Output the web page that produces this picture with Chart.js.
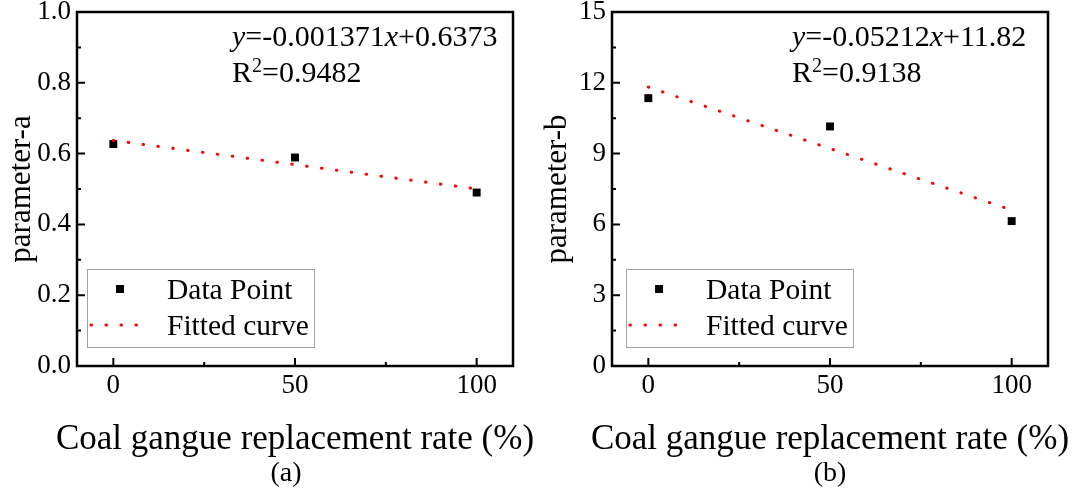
<!DOCTYPE html>
<html>
<head>
<meta charset="utf-8">
<script src="https://cdn.jsdelivr.net/npm/chart.js@4.4.1/dist/chart.umd.min.js"></script>
<style>
  html, body { margin: 0; padding: 0; background: #fff; }
  #wrap { display: flex; width: 1073px; height: 497px; }
  .panel { position: relative; height: 497px; }
  canvas { display: block; }
</style>
</head>
<body>
<div id="wrap">
  <div class="panel" style="width:536px"><canvas id="chartA" width="536" height="497"></canvas></div>
  <div class="panel" style="width:537px"><canvas id="chartB" width="537" height="497"></canvas></div>
</div>
<script>
// data
const replacementRate = [0, 50, 100];
const paramA = [0.627, 0.589, 0.490];
const paramB = [11.35, 10.15, 6.14];
const fitX = [0, 100];
const fitA = [0.6373, 0.5002];
const fitB = [11.82, 6.608];

const xTicks = [0, 50, 100];
const xMinorTicks = [25, 75];
const yTicksA = [0, 0.2, 0.4, 0.6, 0.8, 1.0];
const yMinorA = [0.1, 0.3, 0.5, 0.7, 0.9];
const yTicksB = [0, 3, 6, 9, 12, 15];
const yMinorB = [1.5, 4.5, 7.5, 10.5, 13.5];

const xTitle = 'Coal gangue replacement rate (%)';
const serif = "'Liberation Serif', 'Times New Roman', serif";

function panelPlugin(cfg) {
  return {
    id: 'panelDecor',
    afterDraw(chart) {
      const ctx = chart.ctx;
      const a = chart.chartArea;
      const xs = chart.scales.x, ys = chart.scales.y;
      ctx.save();

      // ticks (pointing inward)
      ctx.strokeStyle = '#000';
      ctx.lineWidth = 2;
      ctx.beginPath();
      xTicks.forEach(v => { const p = xs.getPixelForValue(v); ctx.moveTo(p, a.bottom); ctx.lineTo(p, a.bottom - 8); });
      xMinorTicks.forEach(v => { const p = xs.getPixelForValue(v); ctx.moveTo(p, a.bottom); ctx.lineTo(p, a.bottom - 4); });
      cfg.yTicks.forEach(v => { const p = ys.getPixelForValue(v); ctx.moveTo(a.left, p); ctx.lineTo(a.left + 8, p); });
      cfg.yMinor.forEach(v => { const p = ys.getPixelForValue(v); ctx.moveTo(a.left, p); ctx.lineTo(a.left + 4, p); });
      ctx.stroke();

      // frame
      ctx.lineWidth = 2.5;
      ctx.strokeRect(a.left, a.top, a.right - a.left, a.bottom - a.top);

      // equation
      ctx.fillStyle = '#000';
      ctx.textBaseline = 'alphabetic';
      ctx.textAlign = 'left';
      let x = a.left + cfg.eqDx;
      const parts = [['y', true], [cfg.eq1, false], ['x', true], [cfg.eq2, false]];
      parts.forEach(([t, it]) => {
        ctx.font = (it ? 'italic ' : '') + '30px ' + serif;
        ctx.fillText(t, x, 46);
        x += ctx.measureText(t).width;
      });
      x = a.left + cfg.eqDx;
      ctx.font = '30px ' + serif;
      ctx.fillText('R', x, 82);
      x += ctx.measureText('R').width;
      ctx.font = '20px ' + serif;
      ctx.fillText('2', x, 72);
      x += ctx.measureText('2').width;
      ctx.font = '30px ' + serif;
      ctx.fillText(cfg.r2, x, 82);

      // legend
      const lx = a.left + cfg.legDx, ly = a.top + 257, lw = 227, lh = 78;
      ctx.fillStyle = '#fff';
      ctx.fillRect(lx, ly, lw, lh);
      ctx.strokeStyle = '#a0a0a0';
      ctx.lineWidth = 1;
      ctx.strokeRect(lx + 0.5, ly + 0.5, lw, lh);
      ctx.fillStyle = '#000';
      ctx.fillRect(lx + 29, ly + 16, 8, 8);
      ctx.strokeStyle = '#ff0000';
      ctx.lineWidth = 3;
      ctx.lineCap = 'round';
      ctx.setLineDash([0.5, 14.5]);
      ctx.beginPath();
      ctx.moveTo(lx + 4, ly + 56);
      ctx.lineTo(lx + 56, ly + 56);
      ctx.stroke();
      ctx.setLineDash([]);
      ctx.fillStyle = '#000';
      ctx.font = '29.5px ' + serif;
      ctx.fillText('Data Point', lx + 80, ly + 30);
      ctx.fillText('Fitted curve', lx + 80, ly + 66);

      // x axis title (wider than the plot, so drawn here without squeezing) and caption
      const cx = (a.left + a.right) / 2;
      ctx.textAlign = 'center';
      ctx.font = '35px ' + serif;
      ctx.fillText(xTitle, cx, 449);
      ctx.font = '28px ' + serif;
      ctx.fillText(cfg.caption, cx + cfg.capDx, 481);
      ctx.restore();
    }
  };
}

function makeChart(id, cfg) {
  return new Chart(document.getElementById(id), {
    type: 'scatter',
    data: {
      datasets: [
        {
          label: 'Data Point',
          data: replacementRate.map((v, i) => ({ x: v, y: cfg.values[i] })),
          pointStyle: 'rect',
          pointRadius: 5.6,
          backgroundColor: '#000',
          borderColor: '#000',
          borderWidth: 0,
          order: 1
        },
        {
          type: 'line',
          label: 'Fitted curve',
          data: fitX.map((v, i) => ({ x: v, y: cfg.fit[i] })),
          borderColor: '#ff0000',
          borderWidth: 3,
          borderDash: [0.5, 14.5],
          borderCapStyle: 'round',
          pointRadius: 0,
          fill: false,
          order: 0
        }
      ]
    },
    options: {
      responsive: false,
      animation: false,
      layout: { padding: { top: 12, right: cfg.rightPad, left: 0, bottom: 0 } },
      plugins: { legend: { display: false }, tooltip: { enabled: false } },
      scales: {
        x: {
          type: 'linear', min: -10, max: 110,
          grid: { display: false, drawTicks: false },
          border: { display: false },
          afterBuildTicks: s => { s.ticks = xTicks.map(v => ({ value: v })); },
          afterFit: s => { s.height = 131; s.paddingLeft = 0; s.paddingRight = 0; },
          ticks: { font: { family: serif, size: 27 }, color: '#000', padding: 4, maxRotation: 0 },
          title: { display: false }
        },
        y: {
          type: 'linear', min: cfg.yMin, max: cfg.yMax,
          grid: { display: false, drawTicks: false },
          border: { display: false },
          afterBuildTicks: s => { s.ticks = cfg.yTicks.map(v => ({ value: v })); },
          afterFit: s => { s.width = cfg.left; s.paddingTop = 0; s.paddingBottom = 0; },
          ticks: { font: { family: serif, size: 27 }, color: '#000', padding: 6, callback: cfg.fmt },
          title: {
            display: true, text: cfg.yTitle, color: '#000',
            font: { family: serif, size: 31 }, padding: { top: 3, bottom: 0 }
          }
        }
      }
    },
    plugins: [panelPlugin(cfg)]
  });
}

makeChart('chartA', {
  values: paramA, fit: fitA, yMin: 0, yMax: 1, yTicks: yTicksA, yMinor: yMinorA,
  fmt: v => Number(v).toFixed(1), yTitle: 'parameter-a', left: 77, rightPad: 23,
  eq1: '=-0.001371', eq2: '+0.6373', r2: '=0.9482', eqDx: 155, legDx: 10,
  caption: '(a)', capDx: -9
});
makeChart('chartB', {
  values: paramB, fit: fitB, yMin: 0, yMax: 15, yTicks: yTicksB, yMinor: yMinorB,
  fmt: v => String(v), yTitle: 'parameter-b', left: 76, rightPad: 25,
  eq1: '=-0.05212', eq2: '+11.82', r2: '=0.9138', eqDx: 180, legDx: 14,
  caption: '(b)', capDx: 0
});
</script>
</body>
</html>
